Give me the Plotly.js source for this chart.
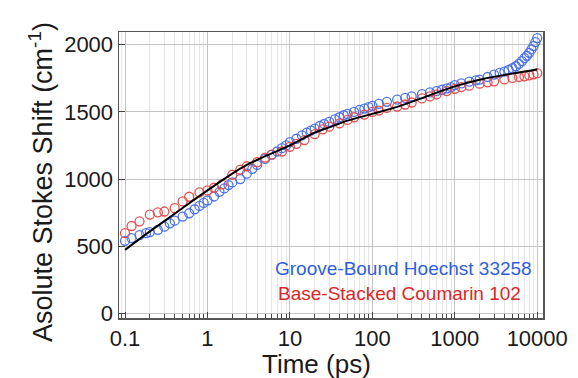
<!DOCTYPE html>
<html>
<head>
<meta charset="utf-8">
<script src="https://cdn.plot.ly/plotly-3.0.1.min.js"></script>
<style>html,body{margin:0;padding:0;background:#fff;}#chart{width:578px;height:378px;}</style>
</head>
<body>
<div id="chart"></div>
<script>
// Groove-Bound Hoechst 33258 (blue)
const blueTime = [0.1,0.12,0.15,0.18,0.2,0.25,0.3,0.35,0.4,0.5,0.6,0.7,0.8,0.9,
  1.0,1.2,1.4,1.6,1.8,2,2.5,3,3.5,4,5,6,7,8,9,
  10,12,14,16,18,20,23,26,30,35,40,45,50,60,70,80,90,
  100,120,150,200,250,300,400,500,600,700,800,900,
  1000,1200,1500,1800,2000,2500,3000,3500,4000,4500,5000,5500,6000,6500,7000,7500,8000,8500,9000,9500,10000];
const blueShift = [540,560,582,597,605,622,645,670,690,720,745,775,800,822,
  840,870,905,930,955,975,1000,1040,1075,1105,1150,1180,1205,1230,1250,
  1275,1300,1325,1345,1360,1375,1395,1410,1425,1445,1460,1475,1485,1500,1515,1525,1535,
  1545,1560,1575,1592,1605,1615,1632,1645,1655,1665,1675,1685,
  1700,1712,1725,1735,1740,1760,1778,1790,1800,1812,1825,1840,1858,1878,1900,1918,1940,1965,1990,2020,2050];

// Base-Stacked Coumarin 102 (red)
const redTime = [0.1,0.12,0.15,0.2,0.25,0.3,0.4,0.5,0.6,0.8,
  1.0,1.2,1.5,2,2.5,3,4,5,6,8,
  10,12,15,20,25,30,40,50,60,80,
  100,120,150,200,250,300,400,500,600,800,
  1000,1200,1500,2000,2500,3000,4000,5000,6000,7000,8000,9000,10000];
const redShift = [597,650,685,735,752,758,783,833,868,900,
  915,935,960,1032,1070,1095,1125,1160,1181,1205,
  1240,1262,1290,1335,1370,1390,1415,1440,1460,1480,
  1500,1510,1530,1540,1555,1570,1600,1615,1630,1655,
  1672,1685,1695,1710,1720,1728,1742,1753,1760,1765,1772,1780,1788];

// Fit curve (black)
const fitTime = [0.1,0.2,0.3,0.5,1,2,3,5,10,20,30,50,100,200,500,1000,2000,5000,10000];
const fitShift = [472,610,686,784,915,1040,1105,1170,1250,1345,1385,1435,1485,1537,1625,1690,1740,1785,1815];

const xTickVals = [0.1,1,10,100,1000,10000];
const xTickText = ['0.1','1','10','100','1000','10000'];
const yTickVals = [0,500,1000,1500,2000];

const FONT = 'Liberation Sans, Arial, Helvetica, sans-serif';

const traces = [
  {x: blueTime, y: blueShift, type:'scatter', mode:'markers', name:'Groove-Bound Hoechst 33258',
   marker:{symbol:'circle-open', size:9, color:'rgba(70,110,230,0.95)', line:{width:1.3}}},
  {x: redTime, y: redShift, type:'scatter', mode:'markers', name:'Base-Stacked Coumarin 102',
   marker:{symbol:'circle-open', size:9, color:'rgba(225,75,75,0.95)', line:{width:1.3}}},
  {x: fitTime, y: fitShift, type:'scatter', mode:'lines', name:'fit',
   line:{color:'#000', width:2, shape:'spline', smoothing:1}}
];

const layout = {
  width:578, height:378,
  margin:{l:119, r:35, t:32, b:60},
  paper_bgcolor:'#fff', plot_bgcolor:'#fff',
  showlegend:false,
  font:{family:FONT, color:'#1a1a1a'},
  xaxis:{
    type:'log', range:[-1.073, 4.07],
    tickvals:xTickVals, ticktext:xTickText,
    ticks:'inside', ticklen:6, tickcolor:'#444', tickwidth:1,
    showline:true, linecolor:'#555', linewidth:1.5, mirror:true,
    showgrid:true, gridcolor:'#c4c4c4', gridwidth:1,
    minor:{dtick:'D1', ticks:'inside', ticklen:4, tickcolor:'#444', showgrid:true, gridcolor:'#e6e6e6', gridwidth:1},
    tickfont:{size:22, family:FONT, color:'#1a1a1a'},
    zeroline:false
  },
  yaxis:{
    range:[-35, 2095],
    tickvals:yTickVals,
    ticks:'inside', ticklen:6, tickcolor:'#444',
    showline:true, linecolor:'#555', linewidth:1.5, mirror:true,
    showgrid:true, gridcolor:'#c4c4c4', gridwidth:1,
    tickfont:{size:22, family:FONT, color:'#1a1a1a'},
    zeroline:false
  },
  annotations:[
    {xref:'paper', yref:'paper', x:(316-119)/424, y:(318-364)/286, xanchor:'center', yanchor:'middle',
     text:'Time (ps)', showarrow:false, font:{size:26, family:FONT, color:'#1a1a1a'}},
    {xref:'paper', yref:'paper', x:(41-119)/424, y:(318-182)/286, xanchor:'center', yanchor:'middle',
     textangle:-90, text:'Asolute Stokes Shift (cm<sup>-1</sup>)', showarrow:false,
     font:{size:27, family:FONT, color:'#1a1a1a'}},
    {xref:'paper', yref:'paper', x:(273-119)/424, y:(318-268)/286, xanchor:'left', yanchor:'middle',
     text:'Groove-Bound Hoechst 33258', showarrow:false, font:{size:19, family:FONT, color:'#2f5fe0'}},
    {xref:'paper', yref:'paper', x:(276-119)/424, y:(318-293)/286, xanchor:'left', yanchor:'middle',
     text:'Base-Stacked Coumarin 102', showarrow:false, font:{size:19, family:FONT, color:'#d82828'}}
  ]
};

Plotly.newPlot('chart', traces, layout, {displayModeBar:false, staticPlot:true});
</script>
</body>
</html>
